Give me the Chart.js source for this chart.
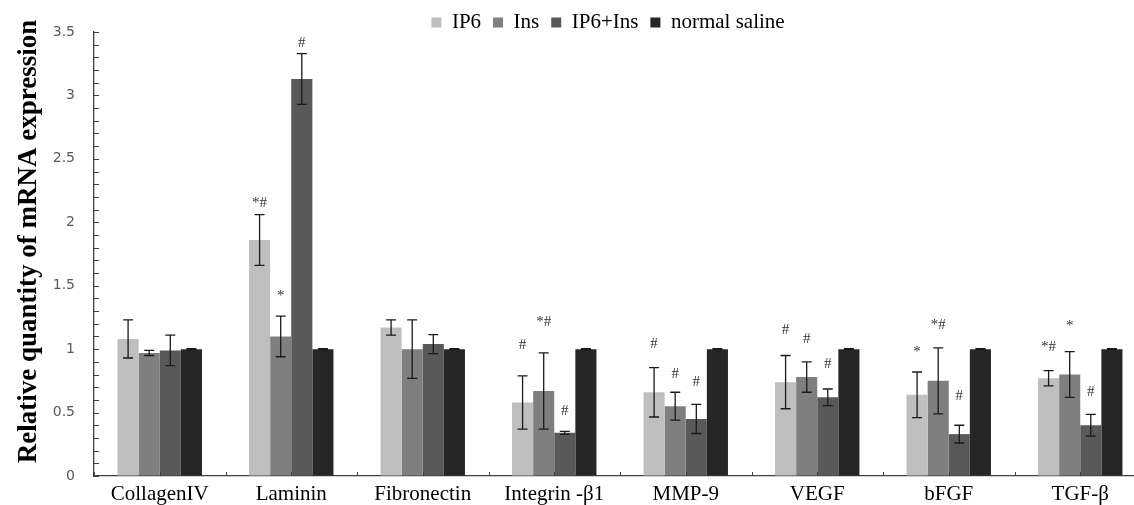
<!DOCTYPE html>
<html><head><meta charset="utf-8">
<script src="https://cdn.jsdelivr.net/npm/chart.js@4.4.1/dist/chart.umd.min.js"></script>
<style>html,body{margin:0;padding:0;background:#fff;overflow:hidden;width:1134px;height:505px}canvas{display:block}</style>
</head><body><canvas id="c" width="1160" height="505"></canvas>
<script>
// ---- data ----
const categories = ['CollagenIV','Laminin','Fibronectin','Integrin -β1','MMP-9','VEGF','bFGF','TGF-β'];
const seriesNames = ['IP6','Ins','IP6+Ins','normal saline'];

const ip6       = [1.08, 1.86, 1.17, 0.58, 0.66, 0.74, 0.64, 0.77];
const ip6Err    = [0.15, 0.20, 0.06, 0.21, 0.195, 0.21, 0.18, 0.06];
const ins       = [0.97, 1.10, 1.00, 0.67, 0.55, 0.78, 0.75, 0.80];
const insErr    = [0.02, 0.16, 0.23, 0.30, 0.11, 0.12, 0.26, 0.18];
const combo     = [0.99, 3.13, 1.04, 0.34, 0.45, 0.62, 0.33, 0.40];
const comboErr  = [0.12, 0.20, 0.075, 0.012, 0.115, 0.066, 0.07, 0.085];
const saline    = [1, 1, 1, 1, 1, 1, 1, 1];
const salineErr = [0.003, 0.003, 0.003, 0.003, 0.003, 0.003, 0.003, 0.003];

// significance marks and the value height at which each is written
const ip6Marks   = ['', '*#', '', '#', '#', '#', '*', '*#'];
const ip6MarkY   = [null, 2.15, null, 1.03, 1.04, 1.15, 0.98, 1.02];
const insMarks   = ['', '*', '', '*#', '#', '#', '*#', '*'];
const insMarkY   = [null, 1.42, null, 1.21, 0.80, 1.08, 1.19, 1.18];
const comboMarks = ['', '#', '', '#', '#', '#', '#', '#'];
const comboMarkY = [null, 3.41, null, 0.51, 0.74, 0.88, 0.63, 0.66];

const yTitle = 'Relative quantity of mRNA expression';
const yMin = 0, yMax = 3.5, yStep = 0.5, yMinorStep = 0.1;

// ---- styling ----
const SERIF = "'Liberation Serif','Times New Roman',serif";
const AXIS = '#404040';

const extras = {
  id: 'extras',
  beforeLayout(chart) {
    const lg = chart.legend;
    if (lg && !lg._patched) {
      const f = lg.fit;
      lg.fit = function () { f.call(this); this.height = 32; };
      lg._patched = true;
    }
  },
  afterLayout(chart) {
    const lg = chart.legend;
    if (lg) { lg.left += 35; lg.right += 35; }
  },
  afterDatasetsDraw(chart) {
    const {ctx, scales: {x, y}} = chart;
    ctx.save();
    chart.data.datasets.forEach((ds, i) => {
      const meta = chart.getDatasetMeta(i);
      meta.data.forEach((bar, j) => {
        const v = ds.data[j], e = ds.errors ? ds.errors[j] : 0;
        if (e) {
          const yt = y.getPixelForValue(v + e), yb = y.getPixelForValue(v - e);
          ctx.strokeStyle = '#1a1a1a';
          ctx.lineWidth = 1.3;
          ctx.beginPath();
          ctx.moveTo(bar.x, yt); ctx.lineTo(bar.x, yb);
          ctx.moveTo(bar.x - 5, yt); ctx.lineTo(bar.x + 5, yt);
          ctx.moveTo(bar.x - 5, yb); ctx.lineTo(bar.x + 5, yb);
          ctx.stroke();
        }
        if (ds.marks && ds.marks[j]) {
          ctx.fillStyle = '#333';
          ctx.font = '15px ' + SERIF;
          ctx.textAlign = 'center';
          ctx.textBaseline = 'middle';
          ctx.fillText(ds.marks[j], bar.x, y.getPixelForValue(ds.markY[j]));
        }
      });
    });
    ctx.restore();
  },
  afterDraw(chart) {
    const {ctx, chartArea, scales: {x, y}} = chart;
    ctx.save();
    ctx.strokeStyle = AXIS;
    ctx.lineWidth = 1;
    ctx.beginPath();
    // inward minor ticks on y
    for (let k = 0; k <= Math.round((yMax - yMin) / yMinorStep); k++) {
      const py = Math.round(y.getPixelForValue(yMin + k * yMinorStep)) + 0.5;
      ctx.moveTo(chartArea.left, py); ctx.lineTo(chartArea.left + 5, py);
    }
    // inward ticks on x at category centres and boundaries
    const n = categories.length;
    for (let k = 0; k <= 2 * n; k++) {
      const px = Math.round(x.getPixelForValue(k / 2 - 0.5)) + 0.5;
      ctx.moveTo(px, chartArea.bottom); ctx.lineTo(px, chartArea.bottom - 4);
    }
    ctx.stroke();
    // y title
    ctx.translate(29, 241.5);
    ctx.rotate(-Math.PI / 2);
    ctx.fillStyle = '#000';
    ctx.font = 'bold 27px ' + SERIF;
    ctx.textAlign = 'center';
    ctx.textBaseline = 'middle';
    ctx.fillText(yTitle, 0, 0);
    ctx.restore();
  }
};

new Chart(document.getElementById('c'), {
  type: 'bar',
  data: {
    labels: categories,
    datasets: [
      {label: seriesNames[0], data: ip6, errors: ip6Err, marks: ip6Marks, markY: ip6MarkY, backgroundColor: '#bfbfbf'},
      {label: seriesNames[1], data: ins, errors: insErr, marks: insMarks, markY: insMarkY, backgroundColor: '#7f7f7f'},
      {label: seriesNames[2], data: combo, errors: comboErr, marks: comboMarks, markY: comboMarkY, backgroundColor: '#595959'},
      {label: seriesNames[3], data: saline, errors: salineErr, backgroundColor: '#262626'}
    ]
  },
  options: {
    responsive: false,
    animation: false,
    devicePixelRatio: 1,
    layout: {padding: {left: 0, right: 14, top: 0, bottom: 0}},
    datasets: {bar: {categoryPercentage: 0.642, barPercentage: 1, borderWidth: 0}},
    plugins: {
      legend: {
        position: 'top', align: 'center',
        labels: {boxWidth: 10, boxHeight: 10, padding: 12, color: '#000', font: {family: SERIF, size: 21}}
      },
      tooltip: {enabled: false}
    },
    scales: {
      x: {
        grid: {display: true, drawOnChartArea: false, drawTicks: false},
        border: {color: AXIS, width: 1.3},
        ticks: {color: '#000', padding: 6, autoSkip: false, maxRotation: 0, font: {family: SERIF, size: 21}},
        afterFit(s) { s.height = 29; }
      },
      y: {
        min: yMin, max: yMax,
        ticks: {
          stepSize: yStep, color: '#595959', padding: 19,
          font: {family: "'DejaVu Sans',sans-serif", size: 14},
          callback: (v) => String(Math.round(v * 10) / 10)
        },
        grid: {display: true, drawOnChartArea: false, drawTicks: false},
        border: {color: AXIS, width: 1.3},
        afterFit(s) { s.width = 94; }
      }
    }
  },
  plugins: [extras]
});
</script>
</body></html>
